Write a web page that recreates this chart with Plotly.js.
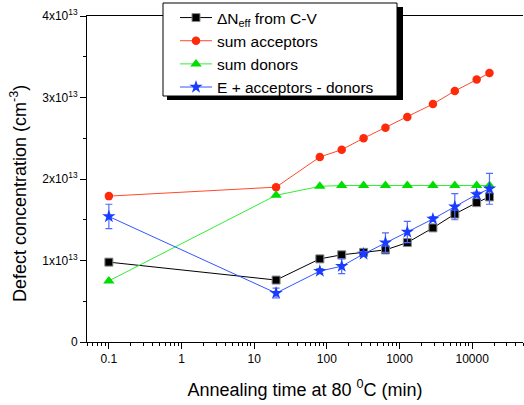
<!DOCTYPE html>
<html>
<head>
<meta charset="utf-8">
<script src="https://cdn.plot.ly/plotly-3.0.1.min.js"></script>
<style>html,body{margin:0;padding:0;background:#fff;}#chart{width:524px;height:405px;}</style>
</head>
<body>
<div id="chart"></div>
<script>
// Annealing time at 80 °C (min)
const times = [0.1, 20, 80, 160, 320, 640, 1280, 2880, 5760, 11520, 17280];
// Concentrations in units of 1e13 cm^-3
const dNeff = [0.98, 0.76, 1.02, 1.07, 1.10, 1.13, 1.22, 1.40, 1.57, 1.71, 1.78];
const sumAcceptors = [1.79, 1.90, 2.27, 2.36, 2.50, 2.63, 2.76, 2.92, 3.08, 3.22, 3.30];
const sumDonors = [0.75, 1.80, 1.91, 1.92, 1.92, 1.92, 1.92, 1.92, 1.92, 1.92, 1.92];
const eAccDon = [1.54, 0.60, 0.87, 0.93, 1.08, 1.22, 1.35, 1.51, 1.66, 1.81, 1.88];
const eAccDonErr = [0.15, 0.06, 0.03, 0.09, 0.03, 0.12, 0.13, 0.03, 0.16, 0.03, 0.19];

const seriesNames = ["ΔN<sub>eff</sub> from C-V", "sum acceptors", "sum donors", "E + acceptors - donors"];
const yTickVals = [0, 1, 2, 3, 4];
const yTickText = ["0", "1x10<sup>13</sup>", "2x10<sup>13</sup>", "3x10<sup>13</sup>", "4x10<sup>13</sup>"];
const xTickVals = [0.1, 1, 10, 100, 1000, 10000];
const xTickText = ["0.1", "1", "10", "100", "1000", "10000"];

const FONT = "Arial, 'Liberation Sans', Helvetica, sans-serif";

// plot area in px: left 87, width 436, top 16, height 326
const PL = 87, PW = 436, PT = 16, PH = 326;
const px2x = p => (p - PL) / PW;
const px2y = p => (PT + PH - p) / PH;

const traces = [
  {x: times, y: dNeff, name: seriesNames[0], mode: "lines+markers",
   line: {color: "#000000", width: 1},
   marker: {symbol: "square", size: 8, color: "#000000", line: {color: "#8a8a8a", width: 1}}},
  {x: times, y: sumAcceptors, name: seriesNames[1], mode: "lines+markers",
   line: {color: "#ff4a2a", width: 1},
   marker: {symbol: "circle", size: 8.5, color: "#ff2a0a"}},
  {x: times, y: sumDonors, name: seriesNames[2], mode: "lines+markers",
   line: {color: "#33ee33", width: 1},
   marker: {symbol: "triangle-up", size: 10, color: "#00dd00"}},
  {x: times, y: eAccDon, name: seriesNames[3], mode: "lines+markers",
   line: {color: "#3355ff", width: 1},
   marker: {symbol: "star", size: 10, color: "#1a3cff"},
   error_y: {type: "data", array: eAccDonErr, visible: true, color: "#4d6bff", thickness: 1.2, width: 3.5}}
];

const layout = {
  width: 524, height: 405,
  margin: {l: PL, r: 524 - PL - PW, t: PT, b: 405 - PT - PH},
  paper_bgcolor: "#ffffff", plot_bgcolor: "#ffffff",
  font: {family: FONT, size: 12, color: "#000"},
  showlegend: true,
  xaxis: {
    type: "log", range: [Math.log10(0.05), Math.log10(50000)],
    tickvals: xTickVals, ticktext: xTickText,
    ticks: "outside", ticklen: 6, tickwidth: 1, tickcolor: "#000",
    minor: {ticks: "outside", ticklen: 3, tickcolor: "#000", dtick: "D1", showgrid: false},
    showline: true, linecolor: "#000", linewidth: 1, mirror: true,
    showgrid: false, zeroline: false,
    tickfont: {size: 12, family: FONT},
    title: {text: "Annealing time at 80 <sup>0</sup>C (min)", font: {size: 18, family: FONT}, standoff: 17}
  },
  yaxis: {
    range: [0, 4],
    tickvals: yTickVals, ticktext: yTickText,
    ticks: "outside", ticklen: 6, tickwidth: 1, tickcolor: "#000",
    minor: {ticks: "outside", ticklen: 3, tickcolor: "#000", dtick: 0.5, showgrid: false},
    showline: true, linecolor: "#000", linewidth: 1, mirror: false,
    showgrid: false, zeroline: false,
    tickfont: {size: 12, family: FONT}
  },
  legend: {
    x: px2x(175), y: px2y(1), xanchor: "left", yanchor: "top",
    bgcolor: "rgba(0,0,0,0)", borderwidth: 0,
    font: {size: 15.5, family: FONT}, itemwidth: 32, tracegroupgap: 0
  },
  annotations: [
    {text: "Defect concentration (cm<sup>-3</sup>)", textangle: -90,
     xref: "paper", yref: "paper", x: px2x(18), y: px2y(194), xanchor: "center", yanchor: "middle",
     showarrow: false, font: {size: 18, family: FONT}}
  ],
  shapes: [
    // legend drop shadow
    {type: "rect", xref: "paper", yref: "paper", layer: "above",
     x0: px2x(167), x1: px2x(403), y0: px2y(100), y1: px2y(7),
     fillcolor: "#000", line: {width: 0}},
    // legend box
    {type: "rect", xref: "paper", yref: "paper", layer: "above",
     x0: px2x(163), x1: px2x(397), y0: px2y(96), y1: px2y(3),
     fillcolor: "#fff", line: {color: "#000", width: 1}}
  ]
};

Plotly.newPlot("chart", traces, layout, {displayModeBar: false, staticPlot: true});
</script>
</body>
</html>
